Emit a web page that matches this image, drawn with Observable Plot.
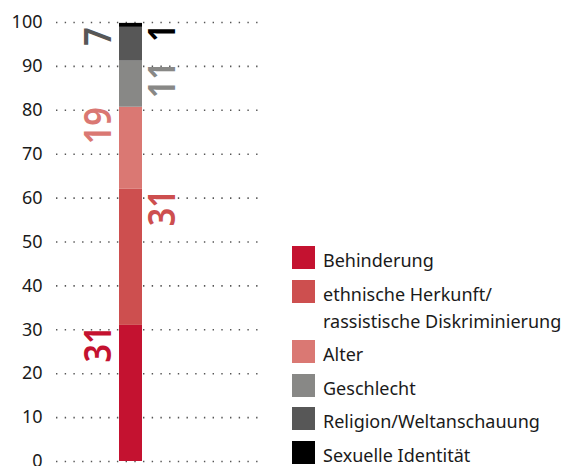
<!DOCTYPE html>
<html><head><meta charset="utf-8">
<script src="https://cdn.jsdelivr.net/npm/d3@7"></script>
<script src="https://cdn.jsdelivr.net/npm/@observablehq/plot@0.6"></script>
<style>
html,body{margin:0;padding:0;background:#fff;}
#chart{position:relative;width:561px;height:466px;overflow:hidden;font-family:"Noto Sans",sans-serif;}
#legend{position:absolute;left:292px;top:246px;}
.row{display:flex;align-items:flex-start;margin-bottom:5.5px;}
.sw{width:23px;height:23px;flex:none;margin-right:8px;}
.lab{font-size:18px;line-height:27px;color:#1a1a1a;margin-top:1px;white-space:nowrap;}
</style></head><body><div id="chart"></div>
<script>
const categories = ["Behinderung", "ethnische Herkunft/\nrassistische Diskriminierung", "Alter", "Geschlecht", "Religion/Weltanschauung", "Sexuelle Identität"];
const values = [31, 31, 18.7, 10.5, 7.7, 0.9];
const labels = ["31", "31", "19", "11", "7", "1"];
const sides = ["left", "right", "left", "right", "left", "right"];
const colors = ["#c41230", "#cd4f4f", "#da7873", "#888886", "#575757", "#000000"];
const yTicks = [0, 10, 20, 30, 40, 50, 60, 70, 80, 90, 100];
const barName = ["Gesamt"];

const data = categories.map((c, i) => ({bar: barName[0], cat: c, value: values[i], label: labels[i], side: sides[i]}));

const labelMark = (side, dx) => Plot.text(data, Plot.filter(d => d.side === side, Plot.stackY2({
  x: "bar", y: "value", text: "label", fill: "cat", order: null,
  rotate: -90, textAnchor: "end", lineAnchor: "middle", fontSize: 37, fontWeight: 600, dx
})));

const plot = Plot.plot({
  width: 561, height: 466,
  marginTop: 22, marginBottom: 5, marginLeft: 56, marginRight: 298,
  style: {fontFamily: "Noto Sans, sans-serif", fontSize: "18px", color: "#1a1a1a", background: "transparent"},
  x: {type: "band", domain: barName, range: [119, 142], padding: 0, axis: null},
  y: {domain: [0, 100], axis: null},
  color: {domain: categories, range: colors},
  marks: [
    Plot.gridY(yTicks, {stroke: "#555", strokeOpacity: 1, strokeWidth: 1.6, strokeDasharray: "1.4,7.3"}),
    Plot.axisY(yTicks, {tickSize: 0, tickPadding: 14, label: null, fontSize: 18}),
    Plot.barY(data, Plot.stackY({x: "bar", y: "value", fill: "cat", order: null})),
    labelMark("left", -32),
    labelMark("right", 32)
  ]
});
plot.querySelectorAll('g[aria-label="text"] text').forEach(t => {
  const n = t.textContent.length;
  t.setAttribute("textLength", n * 18.5);
  t.setAttribute("lengthAdjust", "spacingAndGlyphs");
});
const chart = document.getElementById("chart");
chart.appendChild(plot);

const legend = document.createElement("div");
legend.id = "legend";
categories.forEach((c, i) => {
  const row = document.createElement("div");
  row.className = "row";
  const sw = document.createElement("div");
  sw.className = "sw";
  sw.style.background = colors[i];
  const lab = document.createElement("div");
  lab.className = "lab";
  lab.innerHTML = c.split("\n").join("<br>");
  row.appendChild(sw); row.appendChild(lab);
  legend.appendChild(row);
});
chart.appendChild(legend);
</script></body></html>
